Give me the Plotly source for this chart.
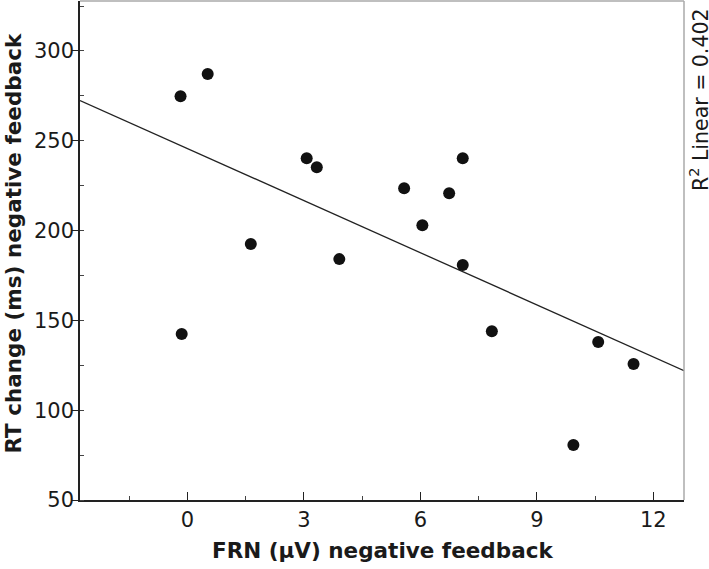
import numpy as np
import plotly.graph_objects as go

# Data
frn_uv = [-0.18, 0.52, -0.15, 1.63, 3.07, 3.33, 3.91, 5.58, 6.05, 6.74, 7.09, 7.09, 7.84, 9.94, 10.58, 11.49]
rt_change_ms = [274.8, 287.1, 142.4, 192.5, 240.3, 235.3, 184.1, 223.6, 203.0, 220.8, 240.3, 180.8, 144.0, 80.6, 137.9, 125.7]
x_ticks = [0, 3, 6, 9, 12]
y_ticks = [50, 100, 150, 200, 250, 300]
x_title = "<b>FRN (µV) negative feedback</b>"
y_title = "<b>RT change (ms) negative feedback</b>"
r2_label = "R<sup>2</sup> Linear = 0.402"

x_range = [-2.77, 12.79]
y_range = [50, 327.8]

slope, intercept = np.polyfit(frn_uv, rt_change_ms, 1)
fit_x = np.array(x_range)
fit_y = slope * fit_x + intercept

font_family = "DejaVu Sans"
txt = "#1a1a1a"

fig = go.Figure()
fig.add_trace(go.Scatter(
    x=fit_x, y=fit_y, mode="lines",
    line=dict(color="#222222", width=1.3),
    hoverinfo="skip", showlegend=False,
))
fig.add_trace(go.Scatter(
    x=frn_uv, y=rt_change_ms, mode="markers",
    marker=dict(color="#111111", size=12, line=dict(width=0)),
    showlegend=False,
))

fig.update_layout(
    width=709, height=569,
    margin=dict(l=80, r=25, t=1, b=69, autoexpand=False),
    paper_bgcolor="white", plot_bgcolor="white",
    font=dict(family=font_family, color=txt),
    xaxis=dict(
        range=x_range, tickvals=x_ticks, showgrid=False, zeroline=False, automargin=False,
        showline=True, linecolor="#222222", linewidth=1.5,
        ticks="inside", ticklen=8, tickcolor="#222222", tickwidth=1.3,
        tickfont=dict(size=21, family=font_family, color=txt),
        minor=dict(dtick=1.5, tick0=0, ticks="inside", ticklen=4, tickcolor="#444444", tickwidth=1),
    ),
    yaxis=dict(
        range=y_range, tickvals=y_ticks, showgrid=False, zeroline=False, automargin=False,
        showline=True, linecolor="#222222", linewidth=1.5,
        ticks="outside", ticklen=6, tickcolor="#222222", tickwidth=1.3,
        ticklabelstandoff=-6,
        tickfont=dict(size=21, family=font_family, color=txt),
        minor=dict(dtick=25, tick0=0, ticks="inside", ticklen=4, tickcolor="#444444", tickwidth=1),
    ),
    shapes=[
        dict(type="line", xref="paper", yref="paper", x0=0, x1=1, y0=1, y1=1, line=dict(color="#aaaaaa", width=1.5)),
        dict(type="line", xref="paper", yref="paper", x0=1, x1=1, y0=0, y1=1, line=dict(color="#aaaaaa", width=1.5)),
    ],
    annotations=[
        dict(text=x_title, xref="paper", yref="paper", x=0.5, y=0, yshift=-50,
             xanchor="center", yanchor="middle", showarrow=False,
             font=dict(size=21.5, family=font_family, color=txt)),
        dict(text=y_title, xref="paper", yref="paper", x=0, y=0.514, xshift=-66,
             xanchor="center", yanchor="middle", textangle=-90, showarrow=False,
             font=dict(size=21.5, family=font_family, color=txt)),
        dict(text=r2_label, xref="paper", yref="paper", x=1.0, y=0.8016, xshift=15,
             xanchor="center", yanchor="middle", textangle=-90, showarrow=False,
             font=dict(size=20.5, family=font_family, color=txt)),
    ],
)

fig.write_html("out.html", config={"displayModeBar": False},
               post_script="document.body.style.margin='0';document.body.style.padding='0';")
